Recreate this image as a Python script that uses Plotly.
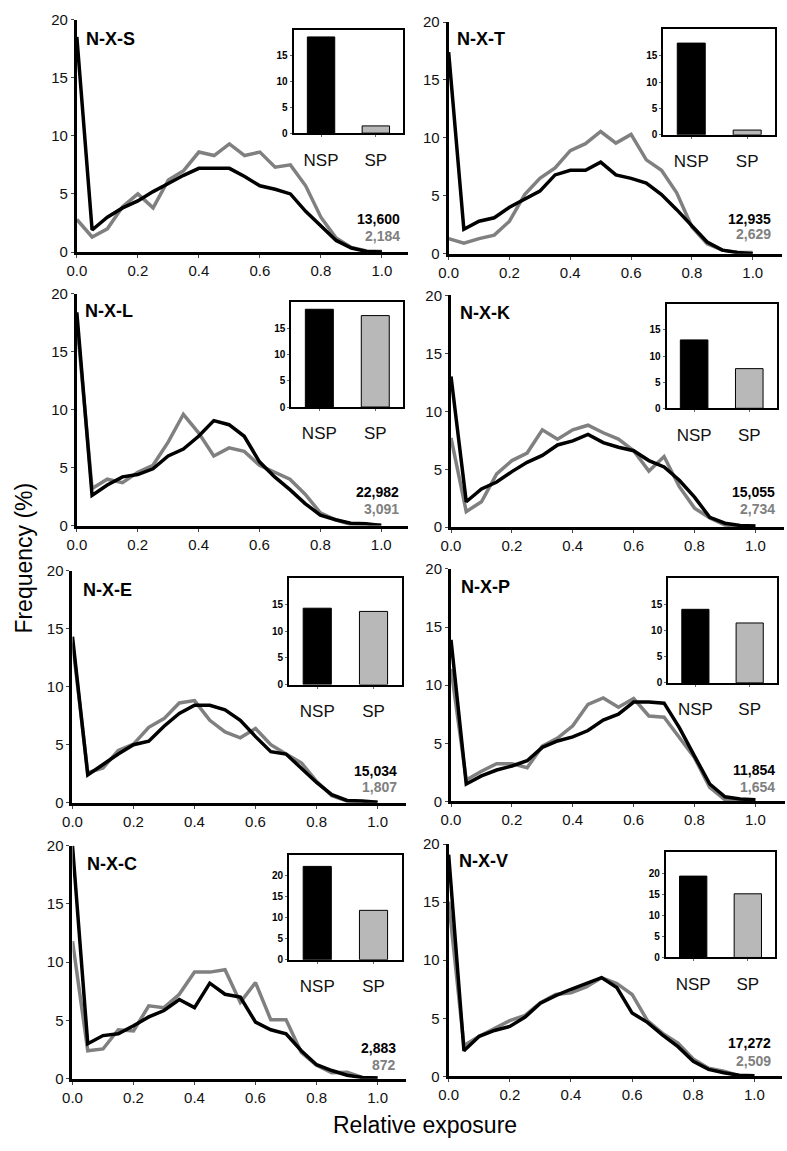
import plotly.graph_objects as go

W, H = 787, 1151
FONT = "Liberation Sans, Arial, sans-serif"

exposure = [0.0, 0.05, 0.1, 0.15, 0.2, 0.25, 0.3, 0.35, 0.4, 0.45, 0.5,
            0.55, 0.6, 0.65, 0.7, 0.75, 0.8, 0.85, 0.9, 0.95, 1.0]

panel_names = ["N-X-S", "N-X-T", "N-X-L", "N-X-K", "N-X-E", "N-X-P", "N-X-C", "N-X-V"]

nsp_S = [18.5, 1.9, 3.0, 3.8, 4.4, 5.2, 5.9, 6.6, 7.2, 7.2, 7.2, 6.5, 5.7, 5.4, 5.0, 3.5, 2.2, 1.0, 0.35, 0.05, 0.0]
sp_S = [2.8, 1.3, 2.0, 3.9, 5.0, 3.8, 6.2, 7.0, 8.6, 8.3, 9.3, 8.3, 8.6, 7.3, 7.5, 5.7, 3.0, 1.2, 0.4, 0.1, 0.05]
nsp_T = [17.4, 2.1, 2.8, 3.1, 4.0, 4.7, 5.4, 6.8, 7.2, 7.2, 7.9, 6.8, 6.5, 6.1, 5.1, 3.8, 2.4, 1.0, 0.3, 0.1, 0.0]
sp_T = [1.3, 0.9, 1.3, 1.6, 2.8, 5.1, 6.5, 7.4, 8.9, 9.5, 10.55, 9.55, 10.3, 8.1, 7.2, 5.25, 2.3, 0.85, 0.3, 0.1, 0.1]
nsp_L = [18.4, 2.6, 3.5, 4.2, 4.4, 4.9, 6.0, 6.6, 7.7, 9.05, 8.7, 7.7, 5.5, 4.2, 3.1, 1.9, 0.9, 0.5, 0.2, 0.15, 0.0]
sp_L = [17.6, 3.2, 4.0, 3.7, 4.6, 5.2, 7.2, 9.6, 8.0, 6.0, 6.7, 6.4, 5.2, 4.6, 4.0, 2.7, 1.1, 0.5, 0.1, 0.05, 0.05]
nsp_K = [13.0, 2.2, 3.3, 3.9, 4.8, 5.6, 6.2, 7.1, 7.45, 8.0, 7.3, 6.9, 6.6, 5.75, 5.2, 4.05, 2.6, 0.85, 0.35, 0.15, 0.1]
sp_K = [7.7, 1.35, 2.2, 4.6, 5.75, 6.4, 8.4, 7.6, 8.4, 8.8, 8.15, 7.6, 6.6, 4.85, 6.1, 3.5, 1.65, 0.8, 0.2, 0.1, 0.1]
nsp_E = [14.3, 2.4, 3.3, 4.2, 5.0, 5.3, 6.6, 7.7, 8.4, 8.4, 8.0, 7.1, 5.7, 4.4, 4.2, 3.0, 1.75, 0.7, 0.2, 0.15, 0.05]
sp_E = [13.8, 2.6, 3.0, 4.5, 5.05, 6.5, 7.25, 8.6, 8.8, 7.1, 6.1, 5.6, 6.4, 5.0, 4.2, 3.45, 1.85, 0.6, 0.15, 0.05, 0.05]
nsp_P = [13.9, 1.5, 2.2, 2.7, 3.05, 3.5, 4.65, 5.2, 5.55, 6.1, 7.0, 7.5, 8.55, 8.55, 8.45, 6.35, 3.9, 1.5, 0.4, 0.2, 0.15]
sp_P = [11.4, 1.85, 2.6, 3.25, 3.25, 2.9, 4.75, 5.45, 6.5, 8.35, 8.9, 8.1, 8.85, 7.35, 7.25, 5.45, 3.75, 1.2, 0.15, 0.1, 0.1]
nsp_C = [20.0, 3.0, 3.7, 3.85, 4.55, 5.3, 5.85, 6.8, 6.1, 8.2, 7.25, 7.0, 4.85, 4.2, 3.85, 2.4, 1.2, 0.7, 0.3, 0.1, 0.05]
sp_C = [11.8, 2.4, 2.55, 4.2, 4.1, 6.25, 6.1, 7.25, 9.15, 9.15, 9.35, 6.55, 8.25, 5.05, 5.05, 2.25, 1.15, 0.5, 0.55, 0.1, 0.05]
nsp_V = [19.1, 2.2, 3.45, 3.95, 4.3, 5.1, 6.3, 6.95, 7.5, 8.0, 8.5, 7.65, 5.45, 4.65, 3.55, 2.55, 1.3, 0.6, 0.3, 0.1, 0.05]
sp_V = [15.05, 2.65, 3.45, 4.1, 4.8, 5.25, 6.35, 7.05, 7.2, 7.7, 8.5, 8.0, 7.05, 4.8, 3.7, 2.85, 1.5, 0.7, 0.45, 0.05, 0.05]

nsp_series = [nsp_S, nsp_T, nsp_L, nsp_K, nsp_E, nsp_P, nsp_C, nsp_V]
sp_series = [sp_S, sp_T, sp_L, sp_K, sp_E, sp_P, sp_C, sp_V]

inset_categories = ["NSP", "SP"]
inset_nsp = [18.6, 17.4, 18.6, 13.1, 14.3, 14.0, 22.2, 19.3]
inset_sp = [1.4, 0.9, 17.4, 7.6, 13.7, 11.4, 11.75, 15.1]
inset_ymax = [20, 20, 20, 20, 20, 20, 25, 25]

count_nsp = ["13,600", "12,935", "22,982", "15,055", "15,034", "11,854", "2,883", "17,272"]
count_sp = ["2,184", "2,629", "3,091", "2,734", "1,807", "1,654", "872", "2,509"]

main_ticks_x = [0, 0.2, 0.4, 0.6, 0.8, 1.0]
main_ticks_y = [0, 5, 10, 15, 20]

# layout geometry in pixels: (x at 0, x at 1.0, axis end, y at 0, y at 20)
main_geom = [
    (67.7, 376.7, 403, 246.7, 10.7),
    (444.3, 752.3, 782, 248.3, 13.3),
    (67.7, 376.0, 403, 524.3, 289.0),
    (446.7, 755.0, 784, 526.0, 290.7),
    (63.3, 372.3, 401, 805.7, 570.0),
    (446.7, 755.0, 785, 804.3, 568.3),
    (63.3, 372.3, 401, 1085.7, 849.3),
    (444.3, 754.0, 782, 1083.3, 847.7),
]
# inset boxes: (left, right, top, bottom)
inset_geom = [
    (287.3, 398.3, 21.0, 126.0),
    (661.7, 775.0, 20.7, 127.7),
    (285.0, 398.3, 297.3, 404.0),
    (665.0, 776.7, 299.3, 405.3),
    (282.7, 396.7, 577.3, 685.7),
    (666.7, 776.7, 577.3, 684.0),
    (282.7, 396.7, 858.3, 965.0),
    (664.3, 775.0, 855.7, 962.7),
]
title_pos = [(75, 30), (451, 30), (74, 306.7), (453.3, 308.3),
             (71.7, 590), (454.3, 586.7), (76, 867.7), (452.3, 865)]
count_pos = [(396.7, 213.3, 230), (773.3, 213.3, 228), (396, 490.7, 507.3), (776.7, 490.7, 507.7),
             (394, 773.3, 790), (776.7, 772.3, 789.3), (392.7, 1054.3, 1071.7), (773.3, 1050, 1067.3)]

def px(x):
    return x / W

def py(y):
    return 1 - y / H

fig = go.Figure()
layout = dict(width=W, height=H, margin=dict(l=0, r=0, t=0, b=0),
              paper_bgcolor="white", plot_bgcolor="white", showlegend=False,
              font=dict(family=FONT, color="black"))
annotations = []

for i in range(8):
    # main axes
    ax = 2 * i + 1
    xname = "xaxis" if ax == 1 else f"xaxis{ax}"
    yname = "yaxis" if ax == 1 else f"yaxis{ax}"
    xref = "x" if ax == 1 else f"x{ax}"
    yref = "y" if ax == 1 else f"y{ax}"
    x0, x1, xe, y0, y20 = main_geom[i]
    rmax = (xe - x0) / (x1 - x0)
    layout[xname] = dict(domain=[px(x0), px(xe)], range=[0, rmax], anchor=yref,
                         showline=True, linewidth=3, linecolor="black", showgrid=False,
                         zeroline=False, ticks="outside", ticklen=3, tickwidth=1, tickcolor="#444",
                         tickvals=main_ticks_x, tickformat=".1f",
                         tickfont=dict(size=15, family=FONT, color="#111"))
    layout[yname] = dict(domain=[py(y0), py(y20)], range=[0, 20], anchor=xref,
                         showline=True, linewidth=3, linecolor="black", showgrid=False,
                         zeroline=False, ticks="outside", ticklen=3, tickwidth=1, tickcolor="#444",
                         tickvals=main_ticks_y,
                         tickfont=dict(size=15, family=FONT, color="#111"))
    fig.add_trace(go.Scatter(x=exposure, y=sp_series[i], mode="lines", xaxis=xref, yaxis=yref,
                             line=dict(color="#808080", width=3.5), cliponaxis=True))
    fig.add_trace(go.Scatter(x=exposure, y=nsp_series[i], mode="lines", xaxis=xref, yaxis=yref,
                             line=dict(color="black", width=3.5), cliponaxis=True))

    # inset axes
    bx = 2 * i + 2
    bxname = f"xaxis{bx}"
    byname = f"yaxis{bx}"
    bxref = f"x{bx}"
    byref = f"y{bx}"
    l, r, t, b = inset_geom[i]
    ymax = inset_ymax[i]
    layout[bxname] = dict(domain=[px(l), px(r)], range=[-0.5, 1.5], anchor=byref,
                          showline=True, mirror=True, linewidth=2, linecolor="black",
                          showgrid=False, zeroline=False, ticks="outside", ticklen=2,
                          tickcolor="#666", tickvals=[0, 1], ticktext=inset_categories,
                          ticklabelstandoff=8,
                          tickfont=dict(size=17, family=FONT, color="#111"))
    layout[byname] = dict(domain=[py(b), py(t)], range=[0, ymax], anchor=bxref,
                          showline=True, mirror=True, linewidth=2, linecolor="black",
                          showgrid=False, zeroline=False, ticks="outside", ticklen=2,
                          tickcolor="#666", tickvals=list(range(0, ymax, 5)),
                          tickfont=dict(size=10, family="Liberation Sans, Arial", color="black",
                                        weight="bold"))
    fig.add_trace(go.Bar(x=[0, 1], y=[inset_nsp[i], inset_sp[i]], width=0.5,
                         xaxis=bxref, yaxis=byref,
                         marker=dict(color=["black", "#b8b8b8"], line=dict(color="black", width=1))))

    # panel title
    tx, ty = title_pos[i]
    annotations.append(dict(x=px(tx), y=py(ty), xref="paper", yref="paper", text=f"<b>{panel_names[i]}</b>",
                            showarrow=False, xanchor="left", yanchor="middle",
                            font=dict(size=18, family=FONT, color="black")))
    cx, cy1, cy2 = count_pos[i]
    annotations.append(dict(x=px(cx), y=py(cy1), xref="paper", yref="paper", text=f"<b>{count_nsp[i]}</b>",
                            showarrow=False, xanchor="right", yanchor="middle",
                            font=dict(size=14, family=FONT, color="black")))
    annotations.append(dict(x=px(cx), y=py(cy2), xref="paper", yref="paper", text=f"<b>{count_sp[i]}</b>",
                            showarrow=False, xanchor="right", yanchor="middle",
                            font=dict(size=14, family=FONT, color="#808080")))

annotations.append(dict(x=px(14), y=py(557), xref="paper", yref="paper", text="Frequency (%)",
                        showarrow=False, textangle=-90, xanchor="center", yanchor="middle",
                        font=dict(size=23, family=FONT, color="black")))
annotations.append(dict(x=px(420), y=py(1133), xref="paper", yref="paper", text="Relative exposure",
                        showarrow=False, xanchor="center", yanchor="middle",
                        font=dict(size=23, family=FONT, color="black")))

layout["annotations"] = annotations
layout["bargap"] = 0.5
fig.update_layout(**layout)
post = ("document.documentElement.style.margin='0';document.body.style.margin='0';"
        "var gd=document.getElementById('{plot_id}');"
        "gd.style.position='fixed';gd.style.left='0px';gd.style.top='0px';")
fig.write_html("out.html", config={"displayModeBar": False}, post_script=post)
